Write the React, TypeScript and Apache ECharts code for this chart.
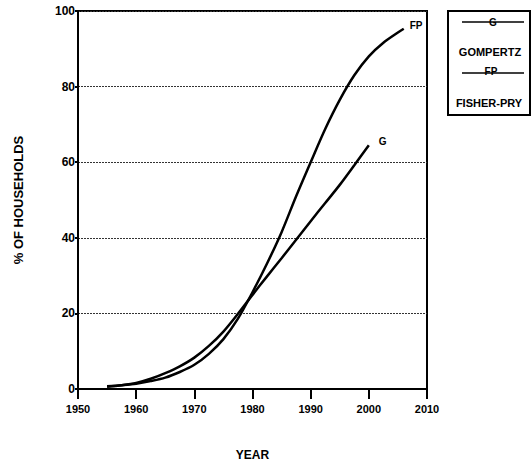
import React, { useEffect, useRef } from "react";
import * as echarts from "echarts";

const years = [1955, 1957.5, 1960, 1962.5, 1965, 1967.5, 1970, 1972.5, 1975, 1977.5, 1980, 1982.5, 1985, 1987.5, 1990, 1992.5, 1995, 1997.5, 2000, 2002.5, 2005, 2006];
const fisherPry = [0.7, 1.0, 1.4, 2.1, 3.0, 4.5, 6.4, 9.3, 13.2, 18.6, 25.6, 33.2, 41.5, 51.0, 60.0, 68.8, 76.5, 83.0, 88.0, 91.6, 94.3, 95.3];
const gYears = [1955, 1957.5, 1960, 1962.5, 1965, 1967.5, 1970, 1972.5, 1975, 1977.5, 1980, 1982.5, 1985, 1987.5, 1990, 1992.5, 1995, 1997.5, 2000];
const gompertz = [0.6, 1.0, 1.6, 2.7, 4.2, 6.0, 8.3, 11.4, 15.2, 19.9, 24.9, 29.8, 34.6, 39.5, 44.4, 49.2, 54.0, 59.2, 64.5];
const yTicks = [0, 20, 40, 60, 80, 100];
const xTicks = [1950, 1960, 1970, 1980, 1990, 2000, 2010];

const FONT = "'Liberation Sans', Arial, sans-serif";

export default function App() {
  const ref = useRef<HTMLDivElement>(null);
  useEffect(() => {
    if (!ref.current) return;
    const chart = echarts.init(ref.current, null, { renderer: "svg" });
    const lbl = { fontFamily: FONT, fontWeight: "bold" as const, color: "#000" };
    chart.setOption({
      animation: false,
      backgroundColor: "#fff",
      grid: {
        left: 78,
        right: 105,
        top: 11,
        bottom: 74,
        show: true,
        borderColor: "#000",
        borderWidth: 2,
      },
      xAxis: {
        type: "value",
        min: xTicks[0],
        max: xTicks[xTicks.length - 1],
        interval: 10,
        name: "YEAR",
        nameLocation: "middle",
        nameGap: 60,
        nameTextStyle: { ...lbl, fontSize: 12 },
        axisLine: { show: true, lineStyle: { color: "#000", width: 2 } },
        axisTick: { show: true, inside: false, length: 10, lineStyle: { color: "#000", width: 2 } },
        axisLabel: { ...lbl, fontSize: 11, margin: 14, formatter: (v: number) => String(v) },
        splitLine: { show: false },
      },
      yAxis: {
        type: "value",
        min: yTicks[0],
        max: yTicks[yTicks.length - 1],
        interval: 20,
        name: "% OF HOUSEHOLDS",
        nameLocation: "middle",
        nameGap: 53,
        nameTextStyle: { ...lbl, fontSize: 13 },
        axisLine: { show: true, lineStyle: { color: "#000", width: 2 } },
        axisTick: { show: true, inside: false, length: 3, lineStyle: { color: "#000", width: 2 } },
        axisLabel: { ...lbl, fontSize: 12, margin: 3 },
        splitLine: { show: true, lineStyle: { color: "#333", width: 1, type: [2, 1] } },
      },
      series: [
        {
          type: "line",
          name: "FISHER-PRY",
          data: years.map((y, i) => [y, fisherPry[i]]),
          smooth: 0.3,
          symbol: "none",
          lineStyle: { color: "#000", width: 2.5 },
          endLabel: { show: true, formatter: "FP", offset: [-2, -3], ...lbl, fontSize: 10 },
        },
        {
          type: "line",
          name: "GOMPERTZ",
          data: gYears.map((y, i) => [y, gompertz[i]]),
          smooth: 0.3,
          symbol: "none",
          lineStyle: { color: "#000", width: 2.5 },
          endLabel: { show: true, formatter: "G", offset: [2, -4], ...lbl, fontSize: 10 },
        },
      ],
      graphic: [
        { type: "rect", shape: { x: 448, y: 11, width: 82, height: 104 }, style: { fill: "none", stroke: "#000", lineWidth: 2 } },
        { type: "line", shape: { x1: 462, y1: 22, x2: 524, y2: 22 }, style: { stroke: "#000", lineWidth: 1.5 } },
        { type: "text", x: 493, y: 22, style: { text: "G", ...lbl, fill: "#000", fontSize: 10, align: "center", verticalAlign: "middle" } },
        { type: "text", x: 490, y: 52, style: { text: "GOMPERTZ", ...lbl, fill: "#000", fontSize: 11, align: "center", verticalAlign: "middle" } },
        { type: "line", shape: { x1: 462, y1: 73, x2: 524, y2: 73 }, style: { stroke: "#000", lineWidth: 1.5 } },
        { type: "text", x: 491, y: 71, style: { text: "FP", ...lbl, fill: "#000", fontSize: 10, align: "center", verticalAlign: "middle" } },
        { type: "text", x: 489, y: 103, style: { text: "FISHER-PRY", ...lbl, fill: "#000", fontSize: 11, align: "center", verticalAlign: "middle" } },
      ],
    });
    return () => chart.dispose();
  }, []);
  return <div ref={ref} style={{ position: "fixed", left: 0, top: 0, width: 532, height: 466 }} />;
}
